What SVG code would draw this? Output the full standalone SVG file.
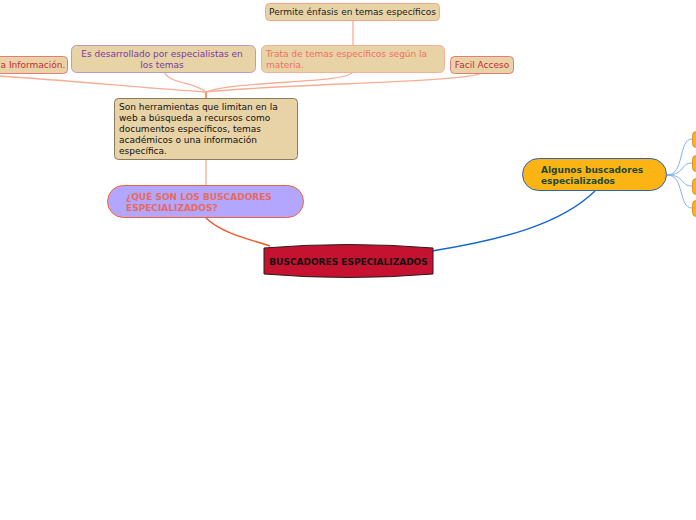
<svg xmlns="http://www.w3.org/2000/svg" width="696" height="520" viewBox="0 0 696 520">
<style>
text{font-family:"DejaVu Sans",Verdana,sans-serif;font-size:9px}
.b{font-weight:bold}
.tan{fill:#e8d3a6}
.sal{fill:none;stroke:#f7ad94;stroke-width:1.3}
.blu{fill:none;stroke:#86aee8;stroke-width:1}
.gold{fill:#fbb414;stroke:#d8962a;stroke-width:1}
</style>
<rect width="696" height="520" fill="#fff"/>
<g id="connectors">
<path d="M270,246 C245,238 220,232 206,218" fill="none" stroke="#f4562a" stroke-width="1.4"/>
<path d="M432,251 C500,240 560,225 595,191" fill="none" stroke="#1466d6" stroke-width="1.4"/>
<path d="M206,185 L206,159" class="sal"/>
<path d="M206,98 L206,91" fill="none" stroke="#f4703a" stroke-width="1.5"/>
<path d="M206,92 C150,88 60,80 0,76" class="sal"/>
<path d="M206,92 C195,82 170,84 164,72" class="sal"/>
<path d="M206,92 C240,80 345,84 353,72" class="sal"/>
<path d="M206,92 C280,84 470,82 481,73" class="sal"/>
<path d="M353,20 L353,45" class="sal"/>
<path d="M667,175 C685,175 678,139 692,139" class="blu"/>
<path d="M667,175 C685,175 680,163 692,163" class="blu"/>
<path d="M667,175 C685,175 680,186 692,186" class="blu"/>
<path d="M667,175 C685,175 678,208 692,208" class="blu"/>
</g>
<g id="center">
<path d="M264,248 Q348,241 433,248 L433,274 Q348,281 264,274 Z" fill="#c41230" stroke="#2a1a1a" stroke-width="1"/>
<text x="348.5" y="264.5" text-anchor="middle" class="b" fill="#111">BUSCADORES ESPECIALIZADOS</text>
</g>
<g id="que-son">
<rect x="107.5" y="185.5" width="196" height="32" rx="16" fill="#b3a6ff" stroke="#f4603a" stroke-width="1"/>
<text x="126" y="200" class="b" fill="#e86a5a">¿QUÉ SON LOS BUSCADORES</text>
<text x="126" y="211" class="b" fill="#e86a5a">ESPECIALIZADOS?</text>
</g>
<g id="herramientas">
<rect x="114.5" y="98.5" width="183" height="61" rx="4" class="tan" stroke="#8a7a5e" stroke-width="1"/>
<text x="119" y="110" fill="#111">Son herramientas que limitan en la</text>
<text x="119" y="121" fill="#111">web a búsqueda a recursos como</text>
<text x="119" y="132" fill="#111">documentos específicos, temas</text>
<text x="119" y="143" fill="#111">académicos o una información</text>
<text x="119" y="154" fill="#111">específica.</text>
</g>
<g id="permite">
<rect x="265.5" y="3.5" width="174" height="17" rx="4" class="tan" stroke="#f2a88a" stroke-width="1"/>
<text x="352.5" y="15" text-anchor="middle" fill="#222">Permite énfasis en temas específicos</text>
</g>
<g id="desarrollado">
<rect x="71.5" y="45.5" width="184" height="27" rx="5" class="tan" stroke="#b89ac8" stroke-width="1"/>
<text x="162" y="57" text-anchor="middle" fill="#7a3aa0">Es desarrollado por especialistas en</text>
<text x="162" y="68" text-anchor="middle" fill="#7a3aa0">los temas</text>
</g>
<g id="trata">
<rect x="261.5" y="45.5" width="183" height="27" rx="5" class="tan" stroke="#f4b09a" stroke-width="1"/>
<text x="266" y="57" fill="#f07060">Trata de temas específicos según la</text>
<text x="266" y="68" fill="#f07060">materia.</text>
</g>
<g id="facil">
<rect x="450.5" y="56.5" width="63" height="17" rx="4" class="tan" stroke="#e47a7a" stroke-width="1"/>
<text x="482" y="68" text-anchor="middle" fill="#c8283a">Facil Acceso</text>
</g>
<g id="informacion">
<rect x="-10.5" y="56.5" width="78" height="17" rx="4" class="tan" stroke="#e47a7a" stroke-width="1"/>
<text x="0.5" y="68" fill="#c8283a">a Información.</text>
</g>
<g id="algunos">
<rect x="522.5" y="158.5" width="144" height="32" rx="16" fill="#fbb414" stroke="#2a62c0" stroke-width="1"/>
<text x="541" y="173" class="b" fill="#1a4a3a">Algunos buscadores</text>
<text x="541" y="184" class="b" fill="#1a4a3a">especializados</text>
</g>
<g id="sub1"><rect x="692.5" y="131.5" width="20" height="16" rx="4" class="gold"/></g>
<g id="sub2"><rect x="692.5" y="155.5" width="20" height="16" rx="4" class="gold"/></g>
<g id="sub3"><rect x="692.5" y="178.5" width="20" height="16" rx="4" class="gold"/></g>
<g id="sub4"><rect x="692.5" y="200.5" width="20" height="16" rx="4" class="gold"/></g>
</svg>
